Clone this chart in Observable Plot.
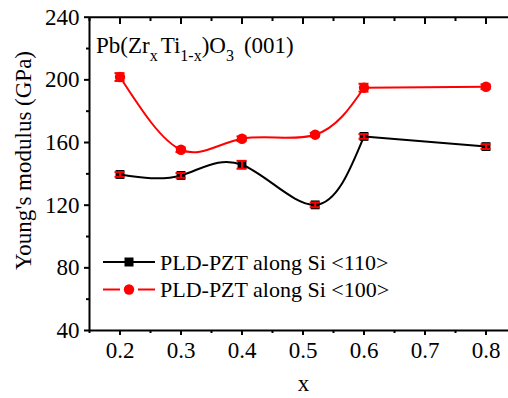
<!DOCTYPE html>
<html>
<head>
<meta charset="utf-8">
<script src="https://cdn.jsdelivr.net/npm/d3@7"></script>
<script src="https://cdn.jsdelivr.net/npm/@observablehq/plot@0.6"></script>
<style>
  html, body { margin: 0; padding: 0; background: #fff; overflow: hidden; }
  #chart { width: 508px; height: 398px; }
  #chart svg, #chart svg text { font-family: "Liberation Serif", "Times New Roman", serif !important; }
</style>
</head>
<body>
<div id="chart"></div>
<script>
// Zr fraction x of the PZT films
const xValues = [0.2, 0.3, 0.4, 0.52, 0.6, 0.8];

// Young's modulus (GPa) measured along Si <110>
const si110 = [139.6, 139.0, 145.8, 120.2, 163.9, 157.4];
const si110Err = [1.5, 1.5, 2.5, 1.5, 1.5, 1.5];

// Young's modulus (GPa) measured along Si <100>
const si100 = [201.8, 155.4, 162.4, 165.0, 195.0, 195.6];
const si100Err = [2.5, 1.5, 1.5, 1.2, 2.5, 1.5];

const seriesNames = ["PLD-PZT along Si <110>", "PLD-PZT along Si <100>"];
const seriesColors = ["#000000", "#ff0000"];
const seriesSymbols = ["square", "circle"];
const errorColor = "#ff0000";

// Axis ticks
const xTicks = [0.2, 0.3, 0.4, 0.5, 0.6, 0.7, 0.8];
const xMinorTicks = [0.15, 0.25, 0.35, 0.45, 0.55, 0.65, 0.75, 0.85];
const yTicks = [40, 80, 120, 160, 200, 240];
const yMinorTicks = [60, 100, 140, 180, 220];

const FONT = "Liberation Serif";
const W = 508, H = 398;
const mL = 89, mT = 17, mB = 68;
const frameH = H - mT - mB;

const series = [si110, si100].map((vals, s) =>
  xValues.map((x, i) => ({x, y: vals[i], err: (s === 0 ? si110Err : si100Err)[i]}))
);

const seriesMarks = series.flatMap((rows, s) => [
  // smooth spline up to x = 0.6, straight segment to x = 0.8
  Plot.line(rows.filter(d => d.x <= 0.6), {x: "x", y: "y", stroke: seriesColors[s], strokeWidth: 2, curve: "natural"}),
  Plot.line(rows.filter(d => d.x >= 0.6), {x: "x", y: "y", stroke: seriesColors[s], strokeWidth: 2})
]);

const markerMarks = series.flatMap((rows, s) => [
  Plot.dot(rows, {x: "x", y: "y", symbol: seriesSymbols[s], r: s === 0 ? 5 : 5.2, fill: seriesColors[s], stroke: "none"}),
  // error bars with caps
  Plot.ruleX(rows, {x: "x", y1: d => d.y - d.err, y2: d => d.y + d.err, stroke: errorColor, strokeWidth: 2}),
  Plot.ruleY(rows, {y: d => d.y - d.err, x1: "x", x2: "x", insetLeft: -5, insetRight: -5, stroke: errorColor, strokeWidth: 2}),
  Plot.ruleY(rows, {y: d => d.y + d.err, x1: "x", x2: "x", insetLeft: -5, insetRight: -5, stroke: errorColor, strokeWidth: 2})
]);

const chart = Plot.plot({
  width: W,
  height: H,
  marginLeft: mL,
  marginRight: 0,
  marginTop: mT,
  marginBottom: mB,
  style: {fontFamily: FONT, fontSize: "23px", color: "#000", background: "#fff"},
  x: {domain: [0.15, 0.85], range: [89, 516]},
  y: {domain: [40, 240], range: [330, 16.7]},
  marks: [
    ...seriesMarks,
    ...markerMarks,
    // frame lines (left, bottom, top)
    Plot.ruleX([0.15], {strokeWidth: 2}),
    Plot.ruleY([40], {strokeWidth: 2}),
    Plot.ruleY([240], {strokeWidth: 2}),
    // bottom axis
    Plot.axisX(xTicks, {tickSize: 5, tickPadding: 6, strokeWidth: 2, fontSize: 23, fontFamily: FONT, tickFormat: d3.format(".1f"), label: null}),
    Plot.axisX(xMinorTicks, {tickSize: 3, strokeWidth: 2, tickFormat: () => "", label: null}),
    // top axis: inward ticks only
    Plot.tickX(xTicks, {x: d => d, insetBottom: frameH - 7, strokeWidth: 2}),
    Plot.tickX(xMinorTicks, {x: d => d, insetBottom: frameH - 4, strokeWidth: 2}),
    // left axis
    Plot.axisY(yTicks, {tickSize: 5, tickPadding: 5, strokeWidth: 2, fontSize: 23, fontFamily: FONT, label: null}),
    Plot.axisY(yMinorTicks, {tickSize: 3, strokeWidth: 2, tickFormat: () => "", label: null}),
    // axis titles
    Plot.text(["x"], {frameAnchor: "bottom", dx: 4.5, dy: 60, textAnchor: "middle", lineAnchor: "bottom", fontSize: 23, fontFamily: FONT}),
    Plot.text(["Young's modulus (GPa)"], {frameAnchor: "left", rotate: -90, dx: -59, dy: -13.5, textAnchor: "middle", lineAnchor: "bottom", fontSize: 23, fontFamily: FONT})
  ]
});

document.getElementById("chart").append(chart);

const svg = d3.select(chart);

// Composition label with subscripts
const title = svg.append("text")
  .attr("x", 96).attr("y", 53)
  .attr("text-anchor", "start")
  .attr("font-family", FONT).attr("font-size", 23).attr("fill", "#000");
const parts = [
  ["Pb(Zr", false], ["x", true], ["Ti", false], ["1-x", true], [")O", false], ["3", true], ["(001)", false]
];
const gaps = [0, 0, 3, 0, 0, 0, 10];
parts.forEach(([t, sub], i) => {
  const prevSub = i > 0 && parts[i - 1][1];
  title.append("tspan")
    .attr("dx", gaps[i])
    .attr("dy", sub ? 8 : (prevSub ? -8 : 0))
    .attr("font-size", sub ? 16 : 23)
    .text(t);
});

// Legend
const legend = svg.append("g")
  .attr("text-anchor", "start")
  .attr("font-family", FONT).attr("font-size", 22);
seriesNames.forEach((name, s) => {
  const cy = 262 + s * 27.5;
  const g = legend.append("g").attr("transform", `translate(0,${cy})`);
  if (s === 0) {
    g.append("line").attr("x1", 103).attr("x2", 155).attr("stroke", seriesColors[s]).attr("stroke-width", 2);
    g.append("rect").attr("x", 124.5).attr("y", -4.5).attr("width", 9).attr("height", 9).attr("fill", seriesColors[s]);
  } else {
    g.append("line").attr("x1", 103).attr("x2", 120).attr("stroke", seriesColors[s]).attr("stroke-width", 2);
    g.append("line").attr("x1", 138).attr("x2", 155).attr("stroke", seriesColors[s]).attr("stroke-width", 2);
    g.append("circle").attr("cx", 129).attr("r", 5.2).attr("fill", seriesColors[s]);
  }
  g.append("text").attr("x", 160).attr("y", 7.5).attr("fill", "#000").text(name);
});
</script>
</body>
</html>
